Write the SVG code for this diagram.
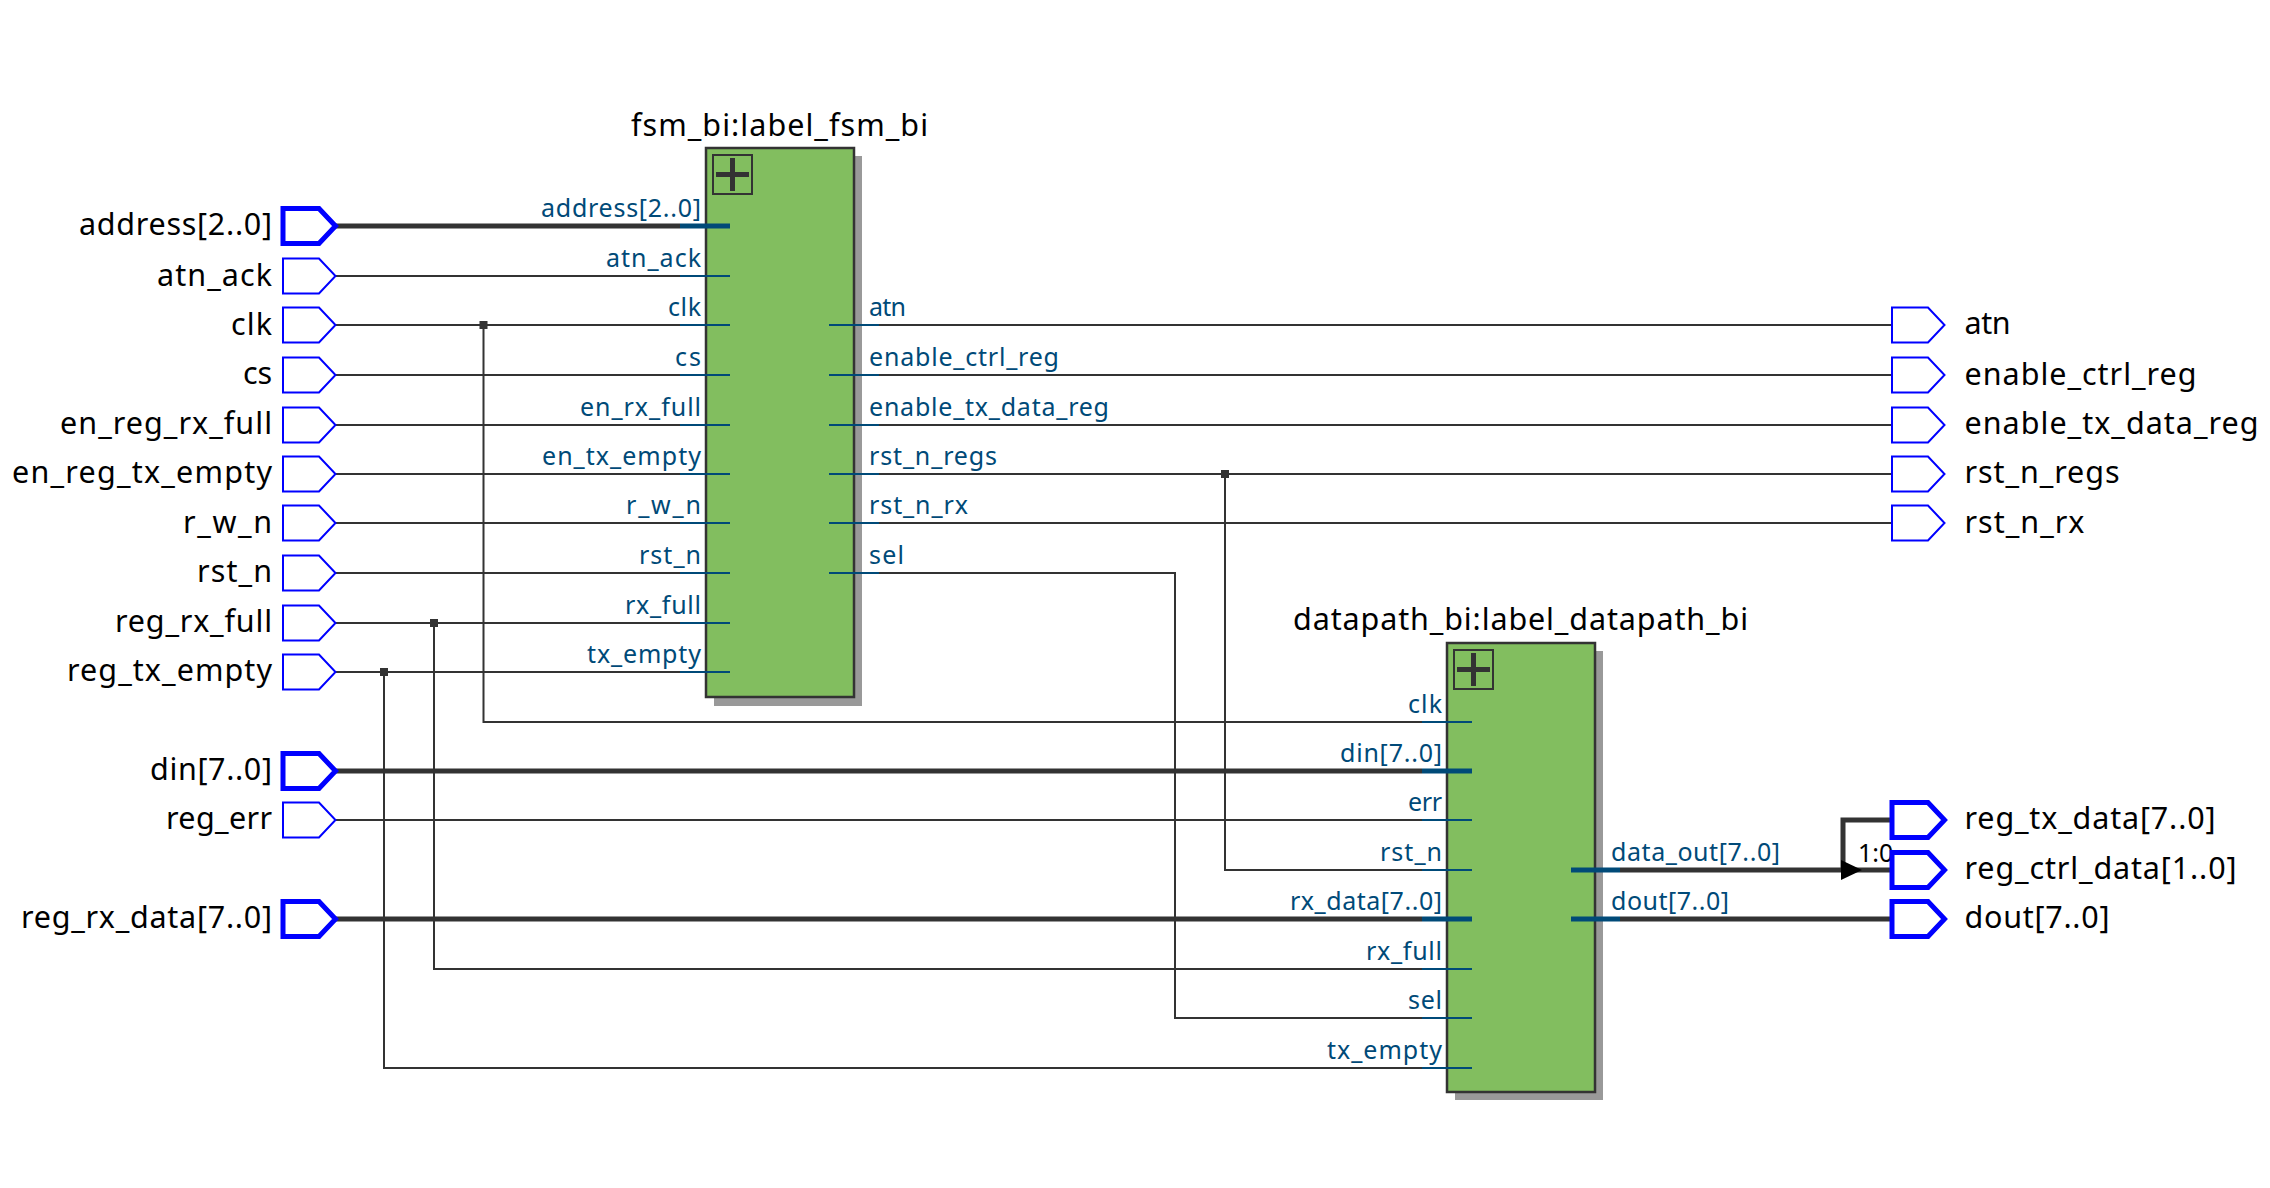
<svg xmlns="http://www.w3.org/2000/svg" width="2270" height="1188" viewBox="0 0 2270 1188">
<style>
text{font-family:"Noto Sans","Open Sans",sans-serif}
.n{font-size:30.500px;fill:#000}
.e{text-anchor:end}
.p{font-size:25px;fill:#004a78}
.t{font-size:30.500px;fill:#000}
.w{fill:none;stroke:#333;stroke-width:2}
.b{fill:none;stroke:#333;stroke-width:5}
.s{fill:none;stroke:#004a78;stroke-width:2}
.sb{fill:none;stroke:#004a78;stroke-width:5}
.port{fill:#fff;stroke:#0000ff;stroke-width:2}
.pb{fill:#fff;stroke:#0000ff;stroke-width:5}
.blk{fill:#82be5f;stroke:#333;stroke-width:2.5}
.sh{fill:#999}
.ic{fill:none;stroke:#333;stroke-width:2}
.pl{fill:none;stroke:#333;stroke-width:5}
.j{fill:#333}
</style>
<defs>
<path id="o" d="M0-17.500H36L52.500 0L36 17.500H0Z"/>
</defs>
<g id="connectors">
<path class="b" d="M336 226H680"/>
<path class="w" d="M335 276H680M335 325H680M335 375H680M335 425H680M335 474H680M335 523H680M335 573H680M335 623H680M335 672H680"/>
<path class="w" d="M483.500 325V722H1422M434 623V969H1422M384 672V1068H1422"/>
<path class="b" d="M336 771H1422M336 919H1422"/>
<path class="w" d="M335 820H1422"/>
<path class="w" d="M879 325H1892M879 375H1892M879 425H1892M879 474H1892M879 523H1892"/>
<path class="w" d="M879 573H1175V1018H1422M1225 474V870H1422"/>
<path class="b" d="M1620 870H1891M1620 919H1891M1843 870V820H1891"/>
<path d="M1841 860L1862 870L1841 880Z" fill="#000"/>
<rect class="j" x="479.500" y="321" width="8" height="8"/>
<rect class="j" x="430" y="619" width="8" height="8"/>
<rect class="j" x="380" y="668" width="8" height="8"/>
<rect class="j" x="1221" y="470" width="8" height="8"/>
<text x="1858" y="861.500" style="font-size:25px;fill:#000">1:0</text>
</g>
<g id="fsm_bi">
<rect class="sh" x="714" y="156" width="148" height="550"/>
<rect class="blk" x="706" y="148" width="148" height="549"/>
<rect class="ic" x="713" y="155" width="39" height="39"/>
<path class="pl" d="M716 174.500H749M732.500 158V191"/>
<text class="t" x="631" y="136" textLength="297">fsm_bi:label_fsm_bi</text>
<path class="sb" d="M680 226H730"/>
<path class="s" d="M680 276H730M680 325H730M680 375H730M680 425H730M680 474H730M680 523H730M680 573H730M680 623H730M680 672H730M829 325H879M829 375H879M829 425H879M829 474H879M829 523H879M829 573H879"/>
<text class="p e" x="701" y="217" textLength="160">address[2..0]</text>
<text class="p e" x="701" y="266.500" textLength="95">atn_ack</text>
<text class="p e" x="701" y="316" textLength="33">clk</text>
<text class="p e" x="701" y="366" textLength="26">cs</text>
<text class="p e" x="701" y="415.500" textLength="121">en_rx_full</text>
<text class="p e" x="701" y="464.500" textLength="159">en_tx_empty</text>
<text class="p e" x="701" y="514" textLength="75">r_w_n</text>
<text class="p e" x="701" y="563.500" textLength="62">rst_n</text>
<text class="p e" x="701" y="613.500" textLength="76">rx_full</text>
<text class="p e" x="701" y="662.500" textLength="114">tx_empty</text>
<text class="p" x="869" y="316" textLength="37">atn</text>
<text class="p" x="869" y="366" textLength="190">enable_ctrl_reg</text>
<text class="p" x="869" y="415.500" textLength="240">enable_tx_data_reg</text>
<text class="p" x="869" y="464.500" textLength="128">rst_n_regs</text>
<text class="p" x="869" y="514" textLength="99">rst_n_rx</text>
<text class="p" x="869" y="563.500" textLength="35">sel</text>
</g>
<g id="datapath_bi">
<rect class="sh" x="1455" y="651" width="148" height="449"/>
<rect class="blk" x="1447" y="643" width="148" height="449"/>
<rect class="ic" x="1454" y="650" width="39" height="39"/>
<path class="pl" d="M1457 669.500H1490M1473.500 653V686"/>
<text class="t" x="1293" y="629.500" textLength="455">datapath_bi:label_datapath_bi</text>
<path class="s" d="M1422 722H1472M1422 820H1472M1422 870H1472M1422 969H1472M1422 1018H1472M1422 1068H1472"/>
<path class="sb" d="M1422 771H1472M1422 919H1472M1571 870H1620M1571 919H1620"/>
<text class="p e" x="1442" y="712.500" textLength="34">clk</text>
<text class="p e" x="1442" y="761.500" textLength="102">din[7..0]</text>
<text class="p e" x="1442" y="810.500" textLength="34">err</text>
<text class="p e" x="1442" y="860.500" textLength="62">rst_n</text>
<text class="p e" x="1442" y="909.500" textLength="152">rx_data[7..0]</text>
<text class="p e" x="1442" y="959.500" textLength="76">rx_full</text>
<text class="p e" x="1442" y="1008.500" textLength="34">sel</text>
<text class="p e" x="1442" y="1058.500" textLength="115">tx_empty</text>
<text class="p" x="1611" y="860.500" textLength="169">data_out[7..0]</text>
<text class="p" x="1611" y="909.500" textLength="118">dout[7..0]</text>
</g>
<g id="in_address"><use href="#o" class="pb" x="283" y="226"/><text class="n e" x="272" y="235" textLength="193">address[2..0]</text></g>
<g id="in_atn_ack"><use href="#o" class="port" x="283" y="276"/><text class="n e" x="272" y="285.500" textLength="115">atn_ack</text></g>
<g id="in_clk"><use href="#o" class="port" x="283" y="325"/><text class="n e" x="272" y="334.500" textLength="41">clk</text></g>
<g id="in_cs"><use href="#o" class="port" x="283" y="375"/><text class="n e" x="272" y="384" textLength="29">cs</text></g>
<g id="in_en_reg_rx_full"><use href="#o" class="port" x="283" y="425"/><text class="n e" x="272" y="434" textLength="212">en_reg_rx_full</text></g>
<g id="in_en_reg_tx_empty"><use href="#o" class="port" x="283" y="474"/><text class="n e" x="272" y="483" textLength="260">en_reg_tx_empty</text></g>
<g id="in_r_w_n"><use href="#o" class="port" x="283" y="523"/><text class="n e" x="272" y="533" textLength="89">r_w_n</text></g>
<g id="in_rst_n"><use href="#o" class="port" x="283" y="573"/><text class="n e" x="272" y="582" textLength="75">rst_n</text></g>
<g id="in_reg_rx_full"><use href="#o" class="port" x="283" y="623"/><text class="n e" x="272" y="632" textLength="157">reg_rx_full</text></g>
<g id="in_reg_tx_empty"><use href="#o" class="port" x="283" y="672"/><text class="n e" x="272" y="681" textLength="205">reg_tx_empty</text></g>
<g id="in_din"><use href="#o" class="pb" x="283" y="771"/><text class="n e" x="272" y="780" textLength="122">din[7..0]</text></g>
<g id="in_reg_err"><use href="#o" class="port" x="283" y="820"/><text class="n e" x="272" y="829" textLength="106">reg_err</text></g>
<g id="in_reg_rx_data"><use href="#o" class="pb" x="283" y="919"/><text class="n e" x="272" y="928" textLength="251">reg_rx_data[7..0]</text></g>
<g id="out_atn"><use href="#o" class="port" x="1892" y="325"/><text class="n" x="1964.500" y="334" textLength="46">atn</text></g>
<g id="out_enable_ctrl_reg"><use href="#o" class="port" x="1892" y="375"/><text class="n" x="1964.500" y="384.500" textLength="232">enable_ctrl_reg</text></g>
<g id="out_enable_tx_data_reg"><use href="#o" class="port" x="1892" y="425"/><text class="n" x="1964.500" y="434" textLength="294">enable_tx_data_reg</text></g>
<g id="out_rst_n_regs"><use href="#o" class="port" x="1892" y="474"/><text class="n" x="1964.500" y="483" textLength="155">rst_n_regs</text></g>
<g id="out_rst_n_rx"><use href="#o" class="port" x="1892" y="523"/><text class="n" x="1964.500" y="532.500" textLength="120">rst_n_rx</text></g>
<g id="out_reg_tx_data"><use href="#o" class="pb" x="1892" y="820"/><text class="n" x="1964.500" y="829" textLength="251">reg_tx_data[7..0]</text></g>
<g id="out_reg_ctrl_data"><use href="#o" class="pb" x="1892" y="870"/><text class="n" x="1964.500" y="879" textLength="272">reg_ctrl_data[1..0]</text></g>
<g id="out_dout"><use href="#o" class="pb" x="1892" y="919"/><text class="n" x="1964.500" y="928" textLength="145">dout[7..0]</text></g>
</svg>
